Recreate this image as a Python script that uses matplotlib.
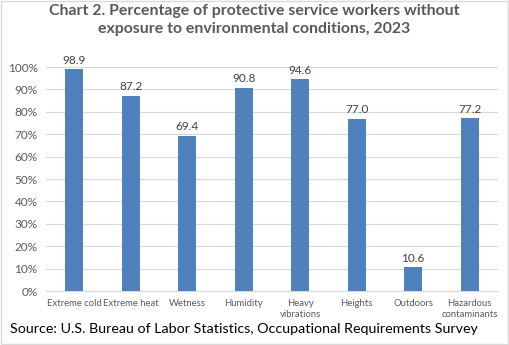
import matplotlib.pyplot as plt
import numpy as np

categories = ['Extreme cold', 'Extreme heat', 'Wetness', 'Humidity', 'Heavy\nvibrations',
              'Heights', 'Outdoors', 'Hazardous\ncontaminants']
values = [98.9, 87.2, 69.4, 90.8, 94.6, 77.0, 10.6, 77.2]

plt.rcParams['font.family'] = ['Lato', 'DejaVu Sans']

fig = plt.figure(figsize=(5.09, 3.45), dpi=100)
ax = fig.add_axes([46 / 509, 1 - 291 / 345, 452 / 509, 224 / 345])

x = np.arange(len(categories))
ax.bar(x, [v / 100 for v in values], width=0.32, color='#4f81bd', zorder=3)
for xi, v in zip(x, values):
    ax.text(xi, v / 100 + 0.015, f'{v:.1f}', ha='center', va='bottom', fontsize=8.5, color='#404040')

ax.set_xlim(-0.5, len(categories) - 0.5)
ax.set_ylim(0, 1.0)
ax.set_yticks(np.arange(0, 1.01, 0.1))
ax.set_yticklabels([f'{int(round(t * 100))}%' for t in np.arange(0, 1.01, 0.1)])
ax.set_xticks(x)
ax.set_xticklabels(categories, fontsize=6.8, color='#595959', linespacing=1.3)
ax.tick_params(axis='y', labelsize=8.5, labelcolor='#595959', length=0, pad=6)
ax.tick_params(axis='x', length=0, pad=6)
ax.grid(axis='y', color='#d9d9d9', linewidth=0.8, zorder=0)
for s in ['top', 'right', 'left']:
    ax.spines[s].set_visible(False)
ax.spines['bottom'].set_color('#d9d9d9')

fig.text(0.5, 1 - 20 / 345, 'Chart 2. Percentage of protective service workers without\nexposure to environmental conditions, 2023',
         ha='center', va='center', fontsize=11.4, fontweight='bold', color='#595959', linespacing=1.4)
fig.text(10 / 509, 1 - 329 / 345, 'Source: U.S. Bureau of Labor Statistics, Occupational Requirements Survey',
         ha='left', va='center', fontsize=10.3, color='black')

fig.patches.append(plt.Rectangle((0.002, 0.003), 0.996, 0.994, transform=fig.transFigure,
                                 fill=False, edgecolor='#d9d9d9', linewidth=1))
fig.savefig('out.png', dpi=100)
